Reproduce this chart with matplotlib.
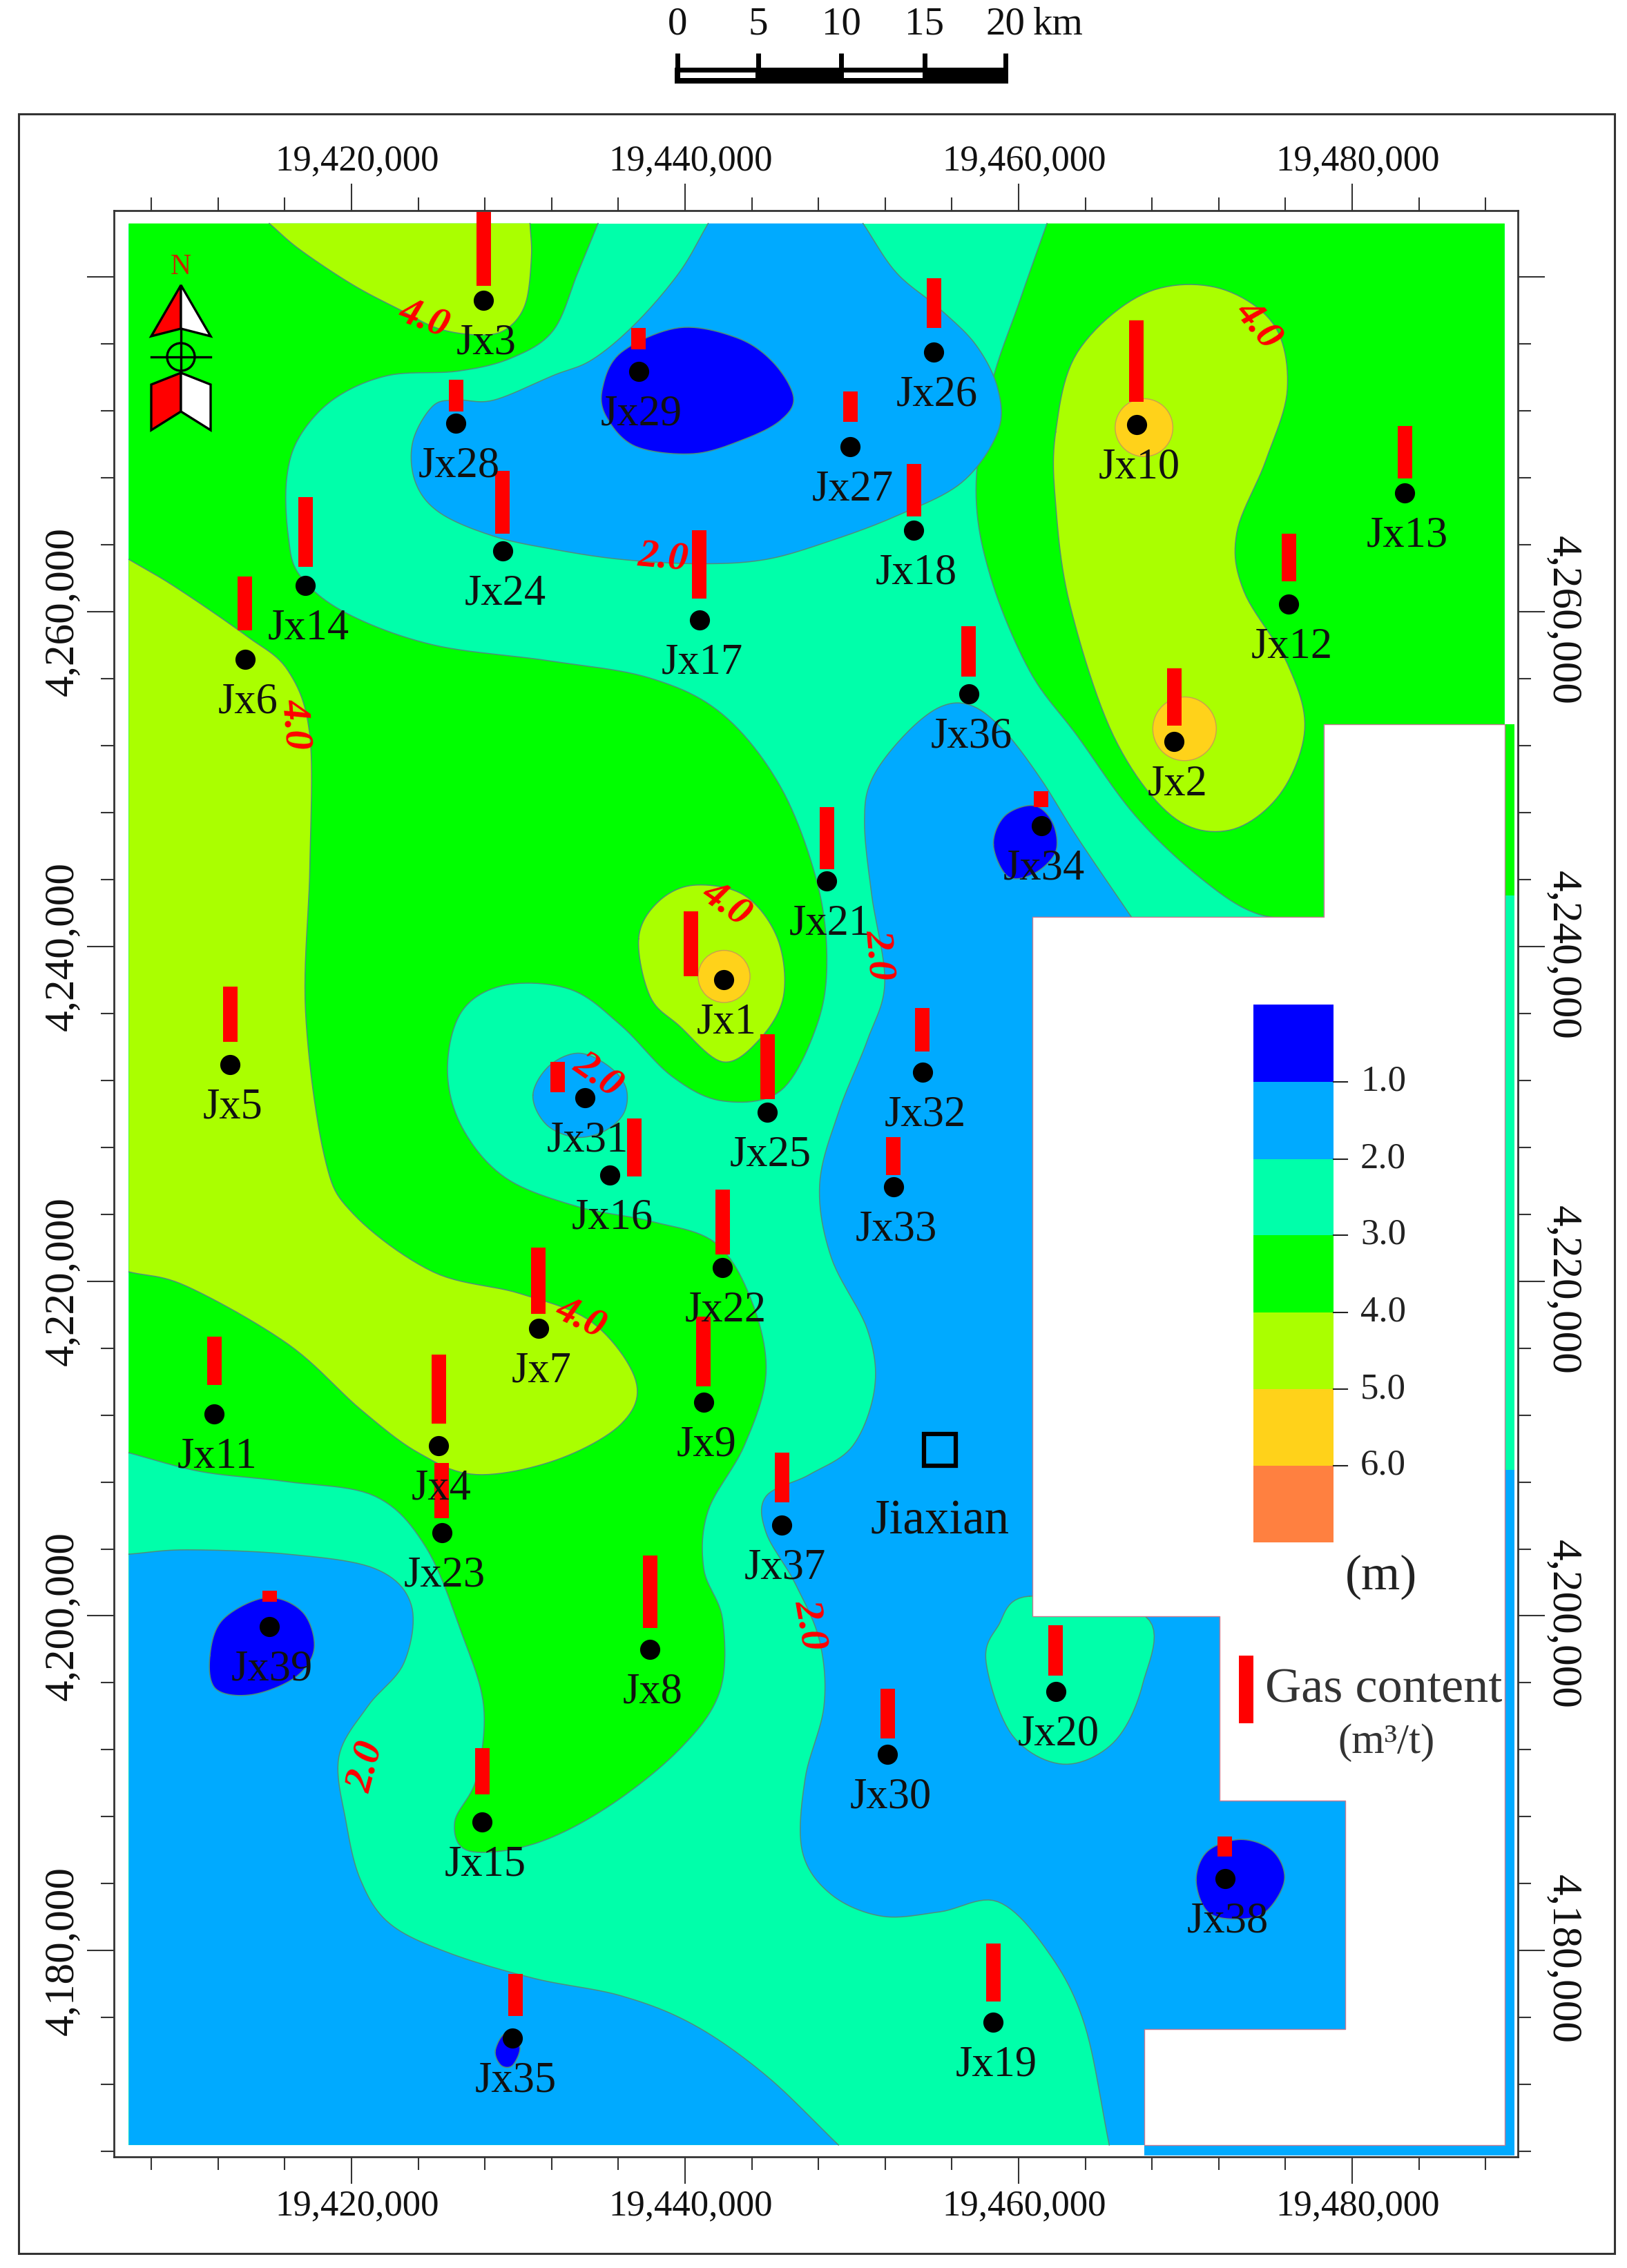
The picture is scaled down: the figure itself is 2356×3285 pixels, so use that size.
import numpy as np
import matplotlib
matplotlib.use("Agg")
import matplotlib.pyplot as plt
from matplotlib.patches import Circle, Polygon, Rectangle
from matplotlib.ticker import FuncFormatter, MultipleLocator
from matplotlib.transforms import ScaledTranslation

plt.rcParams['font.family'] = ['Liberation Serif', 'DejaVu Serif']

# wells, map coordinates in km
well_names = ["Jx%d" % i for i in range(1, 40)]
well_east = [19442.34, 19469.34, 19427.93, 19425.24, 19412.73, 19413.61, 19431.22, 19437.91, 19441.12, 19467.08,
             19411.78, 19476.20, 19483.15, 19417.25, 19427.84, 19435.48, 19440.86, 19453.71, 19458.49, 19462.22,
             19448.50, 19442.26, 19425.41, 19429.06, 19444.95, 19454.93, 19449.90, 19426.27, 19437.22, 19452.15,
             19434.00, 19454.23, 19452.50, 19461.36, 19429.67, 19457.01, 19445.81, 19472.38, 19415.08]
well_north = [4238.02, 4252.21, 4278.59, 4210.17, 4232.92, 4257.14, 4217.18, 4197.98, 4212.77, 4271.15,
              4212.08, 4260.42, 4267.08, 4261.55, 4187.69, 4226.35, 4259.47, 4264.83, 4175.75, 4195.47,
              4243.90, 4220.81, 4204.98, 4263.62, 4230.07, 4275.47, 4269.85, 4271.23, 4274.35, 4191.75,
              4230.93, 4232.49, 4225.65, 4247.19, 4174.80, 4255.06, 4205.42, 4184.31, 4199.36]
gas_content = [4.5, 4.0, 5.1, 4.8, 3.8, 3.7, 4.6, 5.0, 4.8, 5.6,
               3.3, 3.3, 3.6, 4.8, 3.2, 4.0, 4.7, 3.6, 4.0, 3.5,
               4.3, 4.5, 3.8, 4.3, 4.5, 3.4, 2.1, 2.2, 1.5, 3.4,
               2.1, 3.0, 2.6, 1.1, 2.9, 3.5, 3.4, 1.4, 0.8]
bar_gap = [0.17, 0.95, 0.86, 1.30, 1.38, 1.73, 0.86, 1.30, 0.95, 1.38,
           1.73, 1.38, 0.86, 1.12, 1.64, -0.09, 1.30, 0.86, 1.21, 0.95,
           0.69, 0.78, 0.86, 1.04, 0.78, 1.47, 1.47, 0.69, 1.30, 0.95,
           0.35, 1.21, 0.69, 1.12, 1.30, 1.04, 1.38, 1.30, 1.47]
bar_shift = {"Jx1": -1.99, "Jx16": 1.47, "Jx31": -1.64, "Jx35": 0.17}

town_east, town_north = 19455.30, 4209.91

# contour outlines, converted by to_east / to_north
green_main = [(414,156),(400,190),(383,230),(354,249),(317,258),(269,261),(232,277),(208,303),(199,332),(200,371),
              (208,399),(240,425),(300,447),(380,458),(450,470),(500,495),(540,545),(565,610),(572,665),(565,710),
              (540,755),(500,762),(465,745),(430,710),(395,685),(350,682),(320,700),(310,740),(320,780),(350,815),
              (400,835),(450,845),(495,860),(520,900),(530,950),(515,1000),(490,1045),(487,1085),(500,1120),(498,1170),
              (470,1210),(420,1250),(370,1275),(325,1280),(315,1260),(330,1230),(335,1180),(320,1130),(295,1070),
              (260,1035),(200,1025),(140,1018),(90,1005)]
green_right = [(724,156),(705,210),(685,270),(675,340),(685,400),(712,465),(745,510),(785,565),(830,608),(870,633),(915,636)]
yellow_top = [(187,156),(208,174),(244,198),(276,215),(305,229),(335,233),(352,228),(364,211),(368,179),(367,156)]
yellow_left = [(90,388),(122,407),(170,440),(200,465),(215,510),(215,600),(212,700),(225,800),(245,840),(300,880),
               (360,895),(410,915),(440,955),(430,985),(385,1010),(330,1020),(290,1005),(250,975),(200,930),(130,890),(90,880)]
yellow_ne = [(730,300),(745,245),(790,205),(840,200),(880,225),(890,270),(875,320),(855,370),(860,410),(890,460),
             (902,505),(885,550),(850,575),(810,565),(770,510),(740,420),(730,350)]
yellow_mid = [(442,650),(455,625),(480,613),(515,620),(538,650),(542,690),(525,720),(500,735),(470,710),(450,690)]
blue_top = [(490,156),(470,190),(440,225),(410,250),(383,261),(342,278),(317,278),(300,282),(286,307),(288,335),
            (305,356),(342,372),(383,381),(430,388),(484,391),(530,388),(575,375),(620,358),(665,335),(690,300),
            (690,270),(675,240),(650,215),(620,190),(597,156)]
blue_sw = [(90,1075),(130,1072),(200,1075),(260,1085),(285,1110),(280,1150),(255,1180),(235,1215),(240,1260),(250,1300),
           (270,1330),(310,1350),(370,1368),(430,1380),(480,1400),(530,1435),(580,1483)]
blue_east = [(783,636),(745,580),(720,540),(695,507),(672,489),(650,490),(625,510),(603,540),(598,570),(603,620),(612,680),
             (600,720),(580,770),(567,820),(575,870),(600,920),(605,960),(590,1000),(560,1020),(530,1035),(530,1060),
             (550,1095),(567,1135),(570,1180),(557,1230),(555,1280),(575,1310),(610,1325),(650,1322),(690,1315),(725,1350),
             (750,1400),(767,1483)]
blue_jx31 = [(369,758),(378,778),(398,787),(418,783),(432,770),(433,752),(420,737),(400,729),(380,738)]
teal_jx20 = [(712,1104),(690,1125),(682,1150),(700,1200),(735,1220),(770,1205),(790,1165),(792,1118)]
deep_jx29 = [(417,270),(430,245),(470,228),(510,235),(535,252),(549,276),(540,292),(515,305),(480,315),(440,310),(420,290)]
deep_jx34 = [(687,585),(695,565),(715,558),(728,570),(730,590),(715,605),(697,607)]
deep_jx39 = [(146,1145),(155,1120),(185,1105),(210,1115),(218,1140),(205,1160),(175,1172),(150,1168)]
deep_jx38 = [(827,1300),(835,1280),(858,1272),(880,1280),(888,1300),(875,1322),(855,1327),(835,1322)]
deep_jx35 = [(343,1418),(350,1406),(360,1415),(355,1428),(347,1428)]
orange_spots = [(791,297,20),(819,505,22),(501,676,18)]
white_cut = [(915,502),(1040,502),(1040,1483),(791,1483),(791,1403),(930,1403),(930,1245),(843,1245),(843,1118),
             (714,1118),(714,635),(915,635)]

contour_labels = [("4.0",294,222,-20),("4.0",870,226,-50),("2.0",459,387,-5),("4.0",205,502,-85),("4.0",503,626,-35),
                  ("2.0",608,661,-85),("2.0",414,744,-35),("4.0",402,912,-25),("2.0",560,1124,-80),("2.0",254,1222,75)]

legend_levels = ["1.0", "2.0", "3.0", "4.0", "5.0", "6.0"]
legend_colors = ["#0000FF", "#00AAFF", "#00FFAA", "#00FF00", "#AAFF00", "#FFD21A", "#FF8040"]
DEEP, BLUE, TEAL, GREEN, YELLOW, ORANGE, _ = legend_colors
LINE = "#4F8F7A"


def to_east(px):
    return 19420 + (np.asarray(px, dtype=float) - 243.7) * 0.08683


def to_north(py):
    return 4260 - (np.asarray(py, dtype=float) - 423.9) * 0.08649


def smooth(pts, closed=False, n=12):
    p = np.array(pts, dtype=float)
    if closed:
        p = np.vstack([p[-1], p, p[0], p[1]])
    else:
        p = np.vstack([2 * p[0] - p[1], p, 2 * p[-1] - p[-2]])
    out = []
    t = np.linspace(0, 1, n, endpoint=False)[:, None]
    for i in range(1, len(p) - 2):
        a, b, c, d = p[i - 1], p[i], p[i + 1], p[i + 2]
        out.append(0.5 * (2 * b + (c - a) * t + (2 * a - 5 * b + 4 * c - d) * t ** 2 + (3 * b - a - 3 * c + d) * t ** 3))
    out = np.vstack(out + [p[-2]])
    return out


def region(ax, pts, color, corners=(), closed=False, z=2):
    curve = smooth(pts, closed=closed)
    outline = np.vstack([curve, np.array(corners, dtype=float).reshape(-1, 2)])
    ax.fill(to_east(outline[:, 0]), to_north(outline[:, 1]), color=color, lw=0, zorder=z)
    ax.plot(to_east(curve[:, 0]), to_north(curve[:, 1]), color=LINE, lw=1.1, zorder=z + 0.1)


def tick_text(v, _):
    # the 4,280,000 tick carries no label on the original
    if v > 4270 and v < 4300:
        return ""
    return f"{int(round(v * 1000)):,}"


fig = plt.figure(figsize=(23.56, 32.85), dpi=100, facecolor="white")
ax = fig.add_axes([165 / 2356, (3285 - 3124) / 3285, 2033 / 2356, 2819 / 3285])

# map fill, painted from the outside in
ax.fill(to_east([89.5, 1040, 1040, 89.5]), to_north([156, 156, 1483, 1483]), color=TEAL, lw=0, zorder=1)
region(ax, green_main, GREEN, corners=[(90, 156)])
region(ax, green_right, GREEN, corners=[(915, 502), (1040, 502), (1040, 156)])
region(ax, yellow_top, YELLOW, z=3)
region(ax, yellow_left, YELLOW, z=3)
region(ax, yellow_ne, YELLOW, closed=True, z=3)
region(ax, yellow_mid, YELLOW, closed=True, z=3)
region(ax, blue_top, BLUE, z=3)
region(ax, blue_sw, BLUE, corners=[(90, 1483)], z=3)
region(ax, blue_east, BLUE, corners=[(1040, 1483), (1040, 636)], z=3)
region(ax, blue_jx31, BLUE, closed=True, z=4)
region(ax, teal_jx20, TEAL, closed=True, z=4)
for blob in [deep_jx29, deep_jx34, deep_jx39, deep_jx38, deep_jx35]:
    region(ax, blob, DEEP, closed=True, z=4)
for sx, sy, sr in orange_spots:
    ax.add_patch(Circle((to_east(sx), to_north(sy)), sr * 0.08649, fc=ORANGE, ec="#C9A050", lw=1, zorder=5))

# edge strips outside the grid
for y0, y1, col in [(502, 620, GREEN), (620, 1017, TEAL), (1017, 1490, BLUE)]:
    ax.fill(to_east([1040, 1047, 1047, 1040]), to_north([y0, y0, y1, y1]), color=col, lw=0, zorder=5)
ax.fill(to_east([791, 1047, 1047, 791]), to_north([1483, 1483, 1490, 1490]), color=BLUE, lw=0, zorder=5)

cut = np.array(white_cut, dtype=float)
ax.add_patch(Polygon(np.c_[to_east(cut[:, 0]), to_north(cut[:, 1])], closed=True, fc="white", ec="#C87A90", lw=1, zorder=6))

# wells and gas content bars
east = np.array(well_east)
north = np.array(well_north)
gas = np.array(gas_content)
bar_x = east + np.array([bar_shift.get(n, 0.0) for n in well_names])
ax.bar(bar_x, gas * 0.8649, width=0.87, bottom=north + np.array(bar_gap), color="#FF0000", lw=0, zorder=7, clip_on=False)
ax.plot(east, north, "o", color="black", ms=21, mew=0, zorder=8)
for name, e, n in zip(well_names, east, north):
    ax.annotate(name, (e, n), xytext=(3, -45), textcoords="offset points", ha="center", va="center",
                fontsize=45, color="#111111", zorder=9)

for txt, px, py, rot in contour_labels:
    ax.text(to_east(px), to_north(py), txt, rotation=rot, ha="center", va="center", color="#FF0000",
            fontsize=42, fontweight="bold", fontstyle="italic", rotation_mode="anchor", zorder=9)

ax.plot([town_east], [town_north], "s", ms=33, mfc="none", mec="black", mew=4.5, zorder=8)
ax.text(town_east, town_north - 4.3, "Jiaxian", ha="center", va="center", fontsize=51, color="#111111", zorder=9)

ax.set_xlim(19405.76, 19489.94)
ax.set_ylim(4167.69, 4283.94)
ax.xaxis.set_major_locator(MultipleLocator(20))
ax.xaxis.set_minor_locator(MultipleLocator(4))
ax.yaxis.set_major_locator(MultipleLocator(20))
ax.yaxis.set_minor_locator(MultipleLocator(4))
ax.xaxis.set_major_formatter(FuncFormatter(tick_text))
ax.yaxis.set_major_formatter(FuncFormatter(tick_text))
ax.tick_params(which="both", top=True, right=True, labeltop=True, labelright=True, color="#333333", width=1.5)
ax.tick_params(which="major", length=28, pad=6, labelcolor="#111111")
ax.tick_params(axis="x", which="major", labelsize=38)
ax.tick_params(axis="y", which="major", labelsize=44)
ax.tick_params(which="minor", length=14)
for tick in ax.yaxis.get_major_ticks():
    tick.label1.set_rotation(90)
    tick.label1.set_va("center")
    tick.label2.set_rotation(-90)
    tick.label2.set_va("center")
    # the right hand labels sit a little lower and closer on the original
    tick.label2.set_transform(tick.label2.get_transform() + ScaledTranslation(-7 / 72, -9 / 72, fig.dpi_scale_trans))
for tick in ax.xaxis.get_major_ticks():
    for lab in (tick.label1, tick.label2):
        lab.set_transform(lab.get_transform() + ScaledTranslation(6 / 72, 0, fig.dpi_scale_trans))
for s in ax.spines.values():
    s.set_linewidth(2)
    s.set_color("#333333")

# page furniture drawn in image pixels
page = fig.add_axes([0, 0, 1, 1], zorder=5)
page.set_xlim(0, 2356)
page.set_ylim(3285, 0)
page.axis("off")
page.patch.set_alpha(0)
page.add_patch(Rectangle((26.5, 165), 2311.5, 3099, fc="none", ec="#333333", lw=2.2))

# scale bar
page.add_patch(Rectangle((977, 98), 483, 23, fc="black", lw=0))
for x0, x1 in [(985, 1094), (1222, 1336)]:
    page.add_patch(Rectangle((x0, 105), x1 - x0, 8, fc="white", lw=0))
for x, lab in zip([981, 1098, 1218, 1339, 1456], ["0", "5", "10", "15", "20"]):
    page.plot([x, x], [77, 100], color="black", lw=5, solid_capstyle="butt")
    page.text(x, 36, lab, ha="center", va="center", fontsize=41, color="#111111")
page.text(1532, 36, "km", ha="center", va="center", fontsize=41, color="#111111")

# north arrow
arrow_parts = [([(262, 413), (219, 487), (262, 476)], "#FF0000"), ([(262, 413), (305, 487), (262, 476)], "white"),
               ([(219, 557), (262, 540), (262, 596), (219, 623)], "#FF0000"),
               ([(305, 557), (262, 540), (262, 596), (305, 623)], "white")]
for pts, col in arrow_parts:
    page.add_patch(Polygon(pts, closed=True, fc=col, ec="black", lw=2.4))
page.add_patch(Circle((262, 517), 20, fc="none", ec="black", lw=2.4))
page.plot([219, 305], [517, 517], color="black", lw=2.4)
page.plot([262, 262], [476, 540], color="black", lw=2.4)
page.text(262, 387, "N", ha="center", va="center", fontsize=30, color="#CC2200")

# legend
edges = [1455, 1567, 1679, 1789, 1901, 2012, 2123, 2234]
for i, col in enumerate(legend_colors):
    page.add_patch(Rectangle((1815, edges[i]), 116, edges[i + 1] - edges[i], fc=col, lw=0))
for y, lab in zip(edges[1:], legend_levels):
    page.plot([1931, 1951], [y, y], color="#222222", lw=1.5)
    page.text(2003, y, lab, ha="center", va="center", fontsize=38, color="#222222")
page.text(2000, 2284, "(m)", ha="center", va="center", fontsize=52, color="#222222")
page.add_patch(Rectangle((1794, 2398), 21, 98, fc="#FF0000", lw=0))
page.text(1832, 2448, "Gas content", ha="left", va="center", fontsize=52, color="#333333")
page.text(2008, 2524, "(m³/t)", ha="center", va="center", fontsize=44, color="#333333")

fig.savefig("out.png", dpi=100, facecolor="white")
